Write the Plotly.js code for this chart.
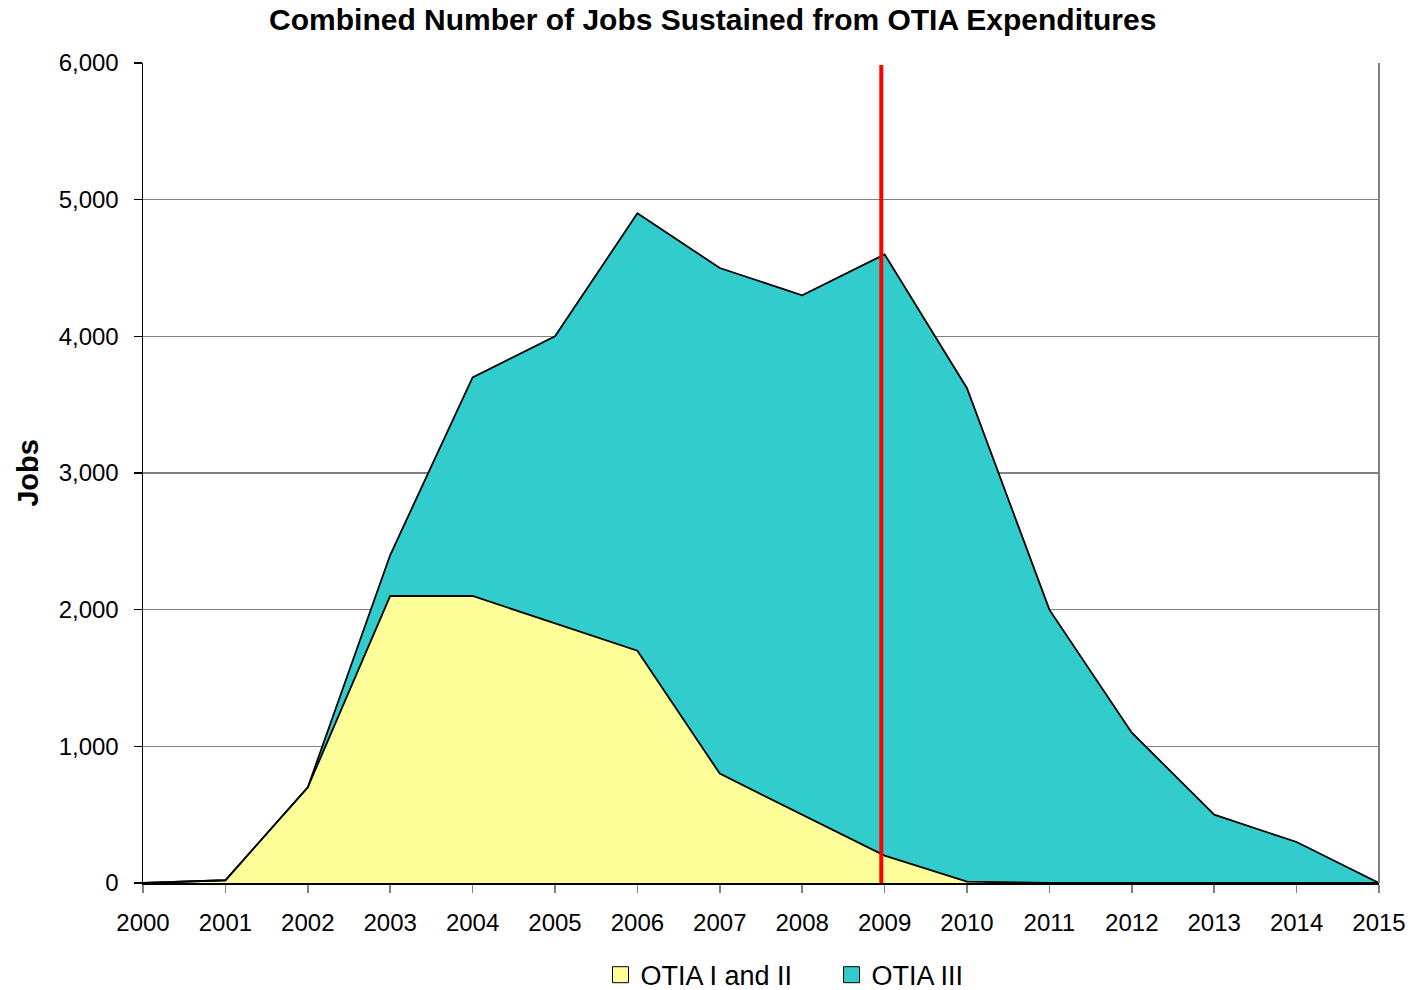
<!DOCTYPE html>
<html>
<head>
<meta charset="utf-8">
<script src="https://cdn.plot.ly/plotly-3.0.1.min.js"></script>
<style>
  html, body { margin: 0; padding: 0; background: #ffffff; }
  #chart { width: 1417px; height: 990px; }
</style>
</head>
<body>
<div id="chart"></div>
<script>
const years = [2000, 2001, 2002, 2003, 2004, 2005, 2006, 2007, 2008, 2009, 2010, 2011, 2012, 2013, 2014, 2015];
const otiaIandII = [0, 20, 700, 2100, 2100, 1900, 1700, 800, 500, 200, 10, 0, 0, 0, 0, 0];
const otiaIII = [0, 0, 0, 300, 1600, 2100, 3200, 3700, 3800, 4400, 3610, 2000, 1100, 500, 300, 0];
const seriesNames = ["OTIA I and II", "OTIA III"];
const seriesColors = ["#FFFF99", "#33CCCC"];
const markerYear = [2008.96, 2008.96];
const markerJobs = [0, 5985];
const titleText = "Combined Number of Jobs Sustained from OTIA Expenditures";
const yTitle = "Jobs";

const FONT = "Liberation Sans, Arial, sans-serif";

const traces = [
  {
    x: years, y: otiaIandII, name: seriesNames[0], type: "scatter", mode: "lines",
    stackgroup: "one", fillcolor: seriesColors[0], showlegend: false,
    line: { color: "#000000", width: 1.8 }
  },
  {
    x: years, y: otiaIII, name: seriesNames[1], type: "scatter", mode: "lines",
    stackgroup: "one", fillcolor: seriesColors[1], showlegend: false,
    line: { color: "#000000", width: 1.8 }
  },
  {
    x: markerYear, y: markerJobs, type: "scatter", mode: "lines",
    showlegend: false, hoverinfo: "skip",
    line: { color: "#FF0000", width: 4 }
  },
  {
    x: [null], y: [null], name: seriesNames[0], type: "scatter", mode: "markers",
    marker: { symbol: "square", size: 16, color: seriesColors[0], line: { color: "#000000", width: 1 } }
  },
  {
    x: [null], y: [null], name: seriesNames[1], type: "scatter", mode: "markers",
    marker: { symbol: "square", size: 16, color: seriesColors[1], line: { color: "#000000", width: 1 } }
  }
];

const layout = {
  width: 1417, height: 990,
  paper_bgcolor: "#ffffff", plot_bgcolor: "#ffffff",
  margin: { l: 143, r: 38, t: 63, b: 107 },
  font: { family: FONT, size: 24, color: "#000000" },
  title: {
    text: "<b>" + titleText + "</b>",
    font: { family: FONT, size: 30, color: "#000000" },
    x: 0.503, xanchor: "center", y: 0.98, yanchor: "middle", yref: "container"
  },
  xaxis: {
    range: [2000, 2015], tickmode: "linear", tick0: 2000, dtick: 1,
    showgrid: false, zeroline: false, automargin: false,
    showline: true, linecolor: "#000000", linewidth: 1.5,
    ticks: "outside", ticklen: 8, tickcolor: "#808080", tickwidth: 1.5,
    ticklabelstandoff: 10,
    tickfont: { family: FONT, size: 24, color: "#000000" }
  },
  yaxis: {
    range: [0, 6000], tickmode: "linear", tick0: 0, dtick: 1000,
    tickformat: ",d", automargin: false,
    showgrid: true, gridcolor: "#808080", gridwidth: 1.2,
    zeroline: false,
    showline: true, linecolor: "#000000", linewidth: 1.5,
    ticks: "outside", ticklen: 8, tickcolor: "#000000", tickwidth: 1.5,
    ticklabelstandoff: 10,
    tickfont: { family: FONT, size: 24, color: "#000000" },
    title: { text: "<b>" + yTitle + "</b>", font: { family: FONT, size: 29, color: "#000000" }, standoff: 11 }
  },
  shapes: [
    { type: "line", xref: "paper", yref: "paper", x0: 1, x1: 1, y0: 0, y1: 1,
      line: { color: "#808080", width: 2 } }
  ],
  legend: {
    orientation: "h", x: 0.4238, xanchor: "left", xref: "container",
    y: 0.015, yanchor: "middle", yref: "container",
    font: { family: FONT, size: 27, color: "#000000" },
    bgcolor: "rgba(0,0,0,0)", traceorder: "normal", itemwidth: 30,
    entrywidth: 186
  },
  showlegend: true
};

Plotly.newPlot("chart", traces, layout, { displayModeBar: false, staticPlot: true });
</script>
</body>
</html>
